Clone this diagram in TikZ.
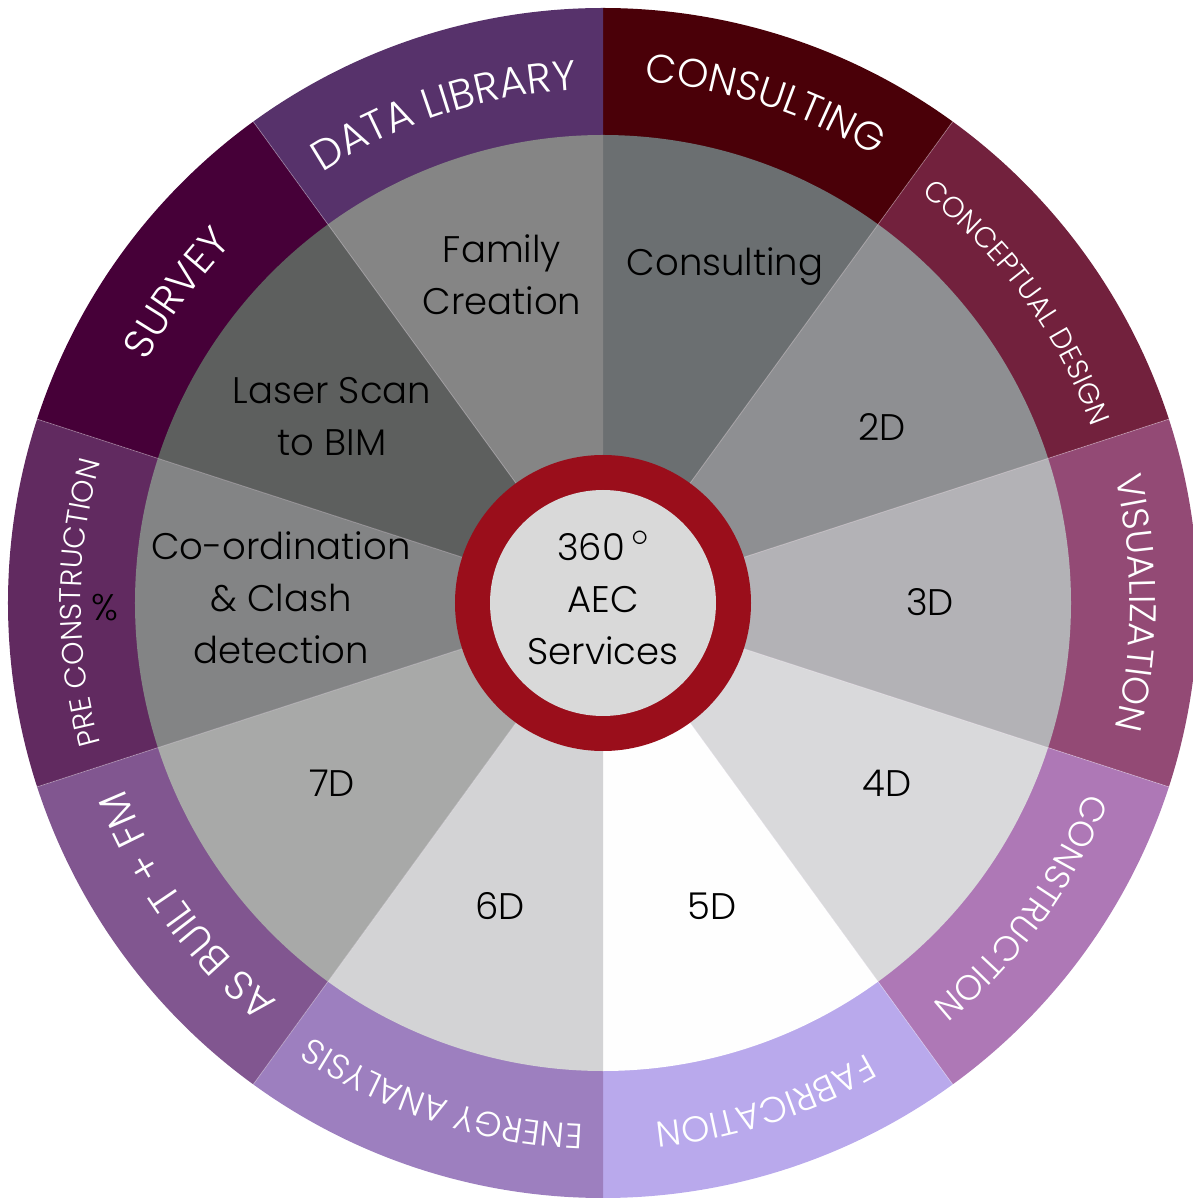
\documentclass[tikz,border=0pt]{standalone}
\usepackage{fontspec}
\setmainfont{Poppins Light}
\usetikzlibrary{decorations.text}

\definecolor{ringdatalib}{RGB}{87,50,107}
\definecolor{ringconsult}{RGB}{74,0,8}
\definecolor{ringconcept}{RGB}{114,33,61}
\definecolor{ringvisual}{RGB}{147,74,117}
\definecolor{ringconstr}{RGB}{174,120,182}
\definecolor{ringfabric}{RGB}{185,169,236}
\definecolor{ringenergy}{RGB}{157,127,191}
\definecolor{ringasbuilt}{RGB}{129,86,144}
\definecolor{ringprecon}{RGB}{97,42,96}
\definecolor{ringsurvey}{RGB}{70,0,56}
\definecolor{segconsult}{RGB}{107,111,113}
\definecolor{segtwod}{RGB}{142,143,146}
\definecolor{segthreed}{RGB}{179,178,182}
\definecolor{segfourd}{RGB}{217,217,219}
\definecolor{segfived}{RGB}{254,254,254}
\definecolor{segsixd}{RGB}{211,211,213}
\definecolor{segsevend}{RGB}{168,169,168}
\definecolor{segcoord}{RGB}{131,132,133}
\definecolor{seglaser}{RGB}{93,95,94}
\definecolor{segfamily}{RGB}{133,133,133}
\definecolor{hubred}{RGB}{154,14,27}
\definecolor{hubgray}{RGB}{217,217,217}

\begin{document}
\begin{tikzpicture}[x=1pt,y=1pt,
        seglabel/.style={font=\fontsize{37}{52}\selectfont,align=center,text=black},
        ringlabel/.style={decorate,decoration={text along path,text align=center,text color=white}},
        seam/.style={draw=white,opacity=0.3,line width=0.8pt},
      ]
      \useasboundingbox (-603,-595) rectangle (589,603);
%
      % outer ring
      \fill[ringconsult] (0,0) -- (90:595) arc[start angle=90,end angle=54,radius=595] -- cycle;
      \fill[ringconcept] (0,0) -- (54:595) arc[start angle=54,end angle=18,radius=595] -- cycle;
      \fill[ringvisual] (0,0) -- (18:595) arc[start angle=18,end angle=-18,radius=595] -- cycle;
      \fill[ringconstr] (0,0) -- (-18:595) arc[start angle=-18,end angle=-54,radius=595] -- cycle;
      \fill[ringfabric] (0,0) -- (-54:595) arc[start angle=-54,end angle=-90,radius=595] -- cycle;
      \fill[ringenergy] (0,0) -- (-90:595) arc[start angle=-90,end angle=-126,radius=595] -- cycle;
      \fill[ringasbuilt] (0,0) -- (-126:595) arc[start angle=-126,end angle=-162,radius=595] -- cycle;
      \fill[ringprecon] (0,0) -- (198:595) arc[start angle=198,end angle=162,radius=595] -- cycle;
      \fill[ringsurvey] (0,0) -- (162:595) arc[start angle=162,end angle=126,radius=595] -- cycle;
      \fill[ringdatalib] (0,0) -- (126:595) arc[start angle=126,end angle=90,radius=595] -- cycle;
%
      % inner segments
      \fill[segconsult] (0,0) -- (90:468) arc[start angle=90,end angle=54,radius=468] -- cycle;
      \fill[segtwod] (0,0) -- (54:468) arc[start angle=54,end angle=18,radius=468] -- cycle;
      \fill[segthreed] (0,0) -- (18:468) arc[start angle=18,end angle=-18,radius=468] -- cycle;
      \fill[segfourd] (0,0) -- (-18:468) arc[start angle=-18,end angle=-54,radius=468] -- cycle;
      \fill[segfived] (0,0) -- (-54:468) arc[start angle=-54,end angle=-90,radius=468] -- cycle;
      \fill[segsixd] (0,0) -- (-90:468) arc[start angle=-90,end angle=-126,radius=468] -- cycle;
      \fill[segsevend] (0,0) -- (-126:468) arc[start angle=-126,end angle=-162,radius=468] -- cycle;
      \fill[segcoord] (0,0) -- (198:468) arc[start angle=198,end angle=162,radius=468] -- cycle;
      \fill[seglaser] (0,0) -- (162:468) arc[start angle=162,end angle=126,radius=468] -- cycle;
      \fill[segfamily] (0,0) -- (126:468) arc[start angle=126,end angle=90,radius=468] -- cycle;
%
      \draw[seam] (0,0) -- (18:595) (0,0) -- (54:595) (0,0) -- (-18:595) (0,0) -- (-54:595)
        (0,0) -- (-126:595) (0,0) -- (-162:595) (0,0) -- (162:595) (0,0) -- (126:595);
%
      % ring labels, read clockwise
      \path[ringlabel,decoration={text={|\fontsize{40}{40}\selectfont|CONSULTING}}]
        (97:523) arc[start angle=97,end angle=47,radius=523];
      \path[ringlabel,decoration={text={|\fontsize{29}{29}\selectfont|CONCEPTUAL DESIGN}}]
        (61:519) arc[start angle=61,end angle=11,radius=519];
      \path[ringlabel,decoration={text={|\fontsize{37}{37}\selectfont|VISUALIZATION}}]
        (25:527) arc[start angle=25,end angle=-25,radius=527];
      \path[ringlabel,decoration={text={|\fontsize{35}{35}\selectfont|CONSTRUCTION}}]
        (-11:519) arc[start angle=-11,end angle=-61,radius=519];
      \path[ringlabel,decoration={text={|\fontsize{36}{36}\selectfont|FABRICATION}}]
        (-47:522) arc[start angle=-47,end angle=-97,radius=522];
      \path[ringlabel,decoration={text={|\fontsize{35}{35}\selectfont|ENERGY ANALYSIS}}]
        (-83:522) arc[start angle=-83,end angle=-133,radius=522];
      \path[ringlabel,decoration={text={|\fontsize{41}{41}\selectfont|AS BUILT + FM}}]
        (-119:514) arc[start angle=-119,end angle=-169,radius=514];
      \path[ringlabel,decoration={text={|\fontsize{30}{30}\selectfont|PRE CONSTRUCTION}}]
        (205:522) arc[start angle=205,end angle=155,radius=522];
      \path[ringlabel,decoration={text={|\fontsize{41}{41}\selectfont|SURVEY}}]
        (169:516) arc[start angle=169,end angle=119,radius=516];
      \path[ringlabel,decoration={text={|\fontsize{42}{42}\selectfont|DATA LIBRARY}}]
        (133:514) arc[start angle=133,end angle=83,radius=514];
%
      \node[seglabel] at (-498,-5) (Percent) {\%};
%
      % segment labels
      \node[seglabel] at (122,336) (Consulting) {Consulting};
      \node[seglabel] at (279,176) (TwoD) {2D};
      \node[seglabel] at (327,1) (ThreeD) {3D};
      \node[seglabel] at (284,-180) (FourD) {4D};
      \node[seglabel] at (109,-303) (FiveD) {5D};
      \node[seglabel] at (-103,-303) (SixD) {6D};
      \node[seglabel] at (-271,-180) (SevenD) {7D};
      \node[seglabel] at (-322,5) (Coordination) {Co-ordination\\\& Clash\\detection};
      \node[seglabel] at (-271,186) (LaserScan) {Laser Scan\\to BIM};
      \node[seglabel] at (-101,328) (Family) {Family\\Creation};
%
      % hub
      \fill[hubred] (0,0) circle[radius=148];
      \fill[hubgray] (0,0) circle[radius=113];
      \node[seglabel] at (0,5) (Hub) {360\,\raisebox{0.4em}{\scalebox{1.4}{$\circ$}}\\AEC\\Services};
    \end{tikzpicture}
\end{document}
